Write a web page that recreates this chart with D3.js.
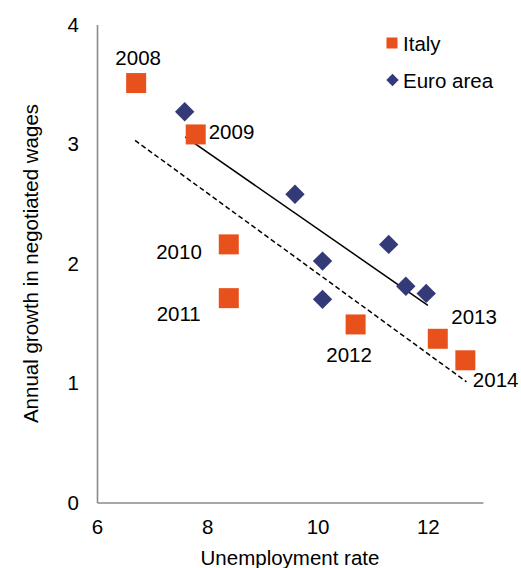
<!DOCTYPE html>
<html>
<head>
<meta charset="utf-8">
<script src="https://cdn.jsdelivr.net/npm/d3@7"></script>
<style>
  html, body { margin: 0; padding: 0; background: #fff; }
  svg { display: block; font-family: "Liberation Sans", Arial, sans-serif; }
</style>
</head>
<body>
<svg id="chart" width="521" height="568"></svg>
<script>
// ---- Data ----
const italyYears = ["2008", "2009", "2010", "2011", "2012", "2013", "2014"];
const italyUnemployment = [6.71, 7.79, 8.39, 8.39, 10.69, 12.18, 12.68];
const italyWages = [3.51, 3.08, 2.16, 1.71, 1.49, 1.37, 1.19];

const euroUnemployment = [7.59, 9.59, 10.09, 11.29, 11.6, 11.97, 10.09];
const euroWages = [3.27, 2.58, 2.02, 2.16, 1.81, 1.75, 1.70];

// Trend lines (endpoints of fitted lines)
const euroTrendX = [7.6, 12.0];
const euroTrendY = [3.06, 1.65];
const italyTrendX = [6.69, 12.7];
const italyTrendY = [3.03, 1.01];

const xTicks = [6, 8, 10, 12];
const yTicks = [0, 1, 2, 3, 4];
const xTitle = "Unemployment rate";
const yTitle = "Annual growth in negotiated wages";
const legendLabels = ["Italy", "Euro area"];

// ---- Styles ----
const ORANGE = "#E9511C";
const NAVY = "#343A78";
const AXIS = "#8a8a8a";
const FONT = 20.5;

const svg = d3.select("#chart");
const x = d3.scaleLinear().domain([6, 13]).range([97, 483]);
const y = d3.scaleLinear().domain([0, 4]).range([502.5, 24.5]);

// Axes
const xAxis = svg.append("g").attr("transform", `translate(0,${y(0)})`)
  .call(d3.axisBottom(x).tickValues(xTicks).tickSize(0).tickPadding(17).tickFormat(d3.format("d")));
const yAxis = svg.append("g").attr("transform", `translate(${x(6)},0)`)
  .call(d3.axisLeft(y).tickValues(yTicks).tickSize(0).tickPadding(18).tickFormat(d3.format("d")));
[xAxis, yAxis].forEach(g => {
  g.select(".domain").attr("stroke", AXIS).attr("stroke-width", 1.6);
  g.selectAll("text").attr("font-size", FONT).attr("fill", "#000")
    .attr("font-family", '"Liberation Sans", Arial, sans-serif');
});

// Axis titles
svg.append("text").attr("x", (x(6) + x(13)) / 2).attr("y", 565)
  .attr("text-anchor", "middle").attr("font-size", FONT).text(xTitle);
svg.append("text")
  .attr("transform", `translate(38,${(y(0) + y(4)) / 2}) rotate(-90)`)
  .attr("text-anchor", "middle").attr("font-size", FONT).text(yTitle);

// Trend lines
const line = d3.line().x(d => x(d[0])).y(d => y(d[1]));
svg.append("path").datum(d3.zip(euroTrendX, euroTrendY)).attr("d", line)
  .attr("fill", "none").attr("stroke", "#000").attr("stroke-width", 1.5);
svg.append("path").datum(d3.zip(italyTrendX, italyTrendY)).attr("d", line)
  .attr("fill", "none").attr("stroke", "#000").attr("stroke-width", 1.5)
  .attr("stroke-dasharray", "5,3");

// Euro area diamonds
const dHalf = 9.7;
svg.append("g").selectAll("path").data(d3.zip(euroUnemployment, euroWages)).join("path")
  .attr("d", d => `M${x(d[0])},${y(d[1]) - dHalf}L${x(d[0]) + dHalf},${y(d[1])}L${x(d[0])},${y(d[1]) + dHalf}L${x(d[0]) - dHalf},${y(d[1])}Z`)
  .attr("fill", NAVY);

// Italy squares
const sq = 20;
svg.append("g").selectAll("rect").data(d3.zip(italyUnemployment, italyWages)).join("rect")
  .attr("x", d => x(d[0]) - sq / 2).attr("y", d => y(d[1]) - sq / 2)
  .attr("width", sq).attr("height", sq).attr("fill", ORANGE);

// Year labels (placement relative to each point)
const labelPlacement = {
  "2008": { dx: 2, dy: -18, anchor: "middle" },
  "2009": { dx: 13, dy: 5, anchor: "start" },
  "2010": { dx: -27, dy: 15, anchor: "end" },
  "2011": { dx: -28, dy: 23, anchor: "end" },
  "2012": { dx: -6.5, dy: 37.5, anchor: "middle" },
  "2013": { dx: 13.5, dy: -14.5, anchor: "start" },
  "2014": { dx: 7.5, dy: 26.5, anchor: "start" }
};
svg.append("g").selectAll("text").data(italyYears).join("text")
  .attr("x", (d, i) => x(italyUnemployment[i]) + labelPlacement[d].dx)
  .attr("y", (d, i) => y(italyWages[i]) + labelPlacement[d].dy)
  .attr("text-anchor", d => labelPlacement[d].anchor)
  .attr("font-size", FONT).attr("fill", "#000").text(d => d);

// Legend
const lg = svg.append("g");
lg.append("rect").attr("x", 386.5).attr("y", 37.5).attr("width", 11).attr("height", 11).attr("fill", ORANGE);
lg.append("text").attr("x", 403).attr("y", 51).attr("font-size", FONT).text(legendLabels[0]);
const lh = 6.2, lx = 392.5, ly = 80;
lg.append("path").attr("d", `M${lx},${ly - lh}L${lx + lh},${ly}L${lx},${ly + lh}L${lx - lh},${ly}Z`).attr("fill", NAVY);
lg.append("text").attr("x", 403).attr("y", 87.5).attr("font-size", FONT).text(legendLabels[1]);
</script>
</body>
</html>
